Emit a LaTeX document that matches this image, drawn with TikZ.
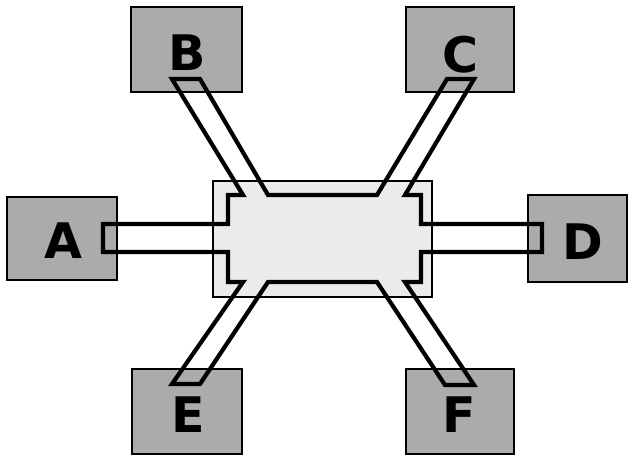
\documentclass[tikz,border=0pt]{standalone}
\usepackage{fontspec}
\newfontfamily\lblfont{DejaVu Sans}
\definecolor{boxgray}{HTML}{ABABAB}
\definecolor{coregray}{HTML}{EBEBEB}
\begin{document}
\begin{tikzpicture}[x=1pt,y=-1pt,
  portbox/.style={draw=black, line width=1.5pt, fill=boxgray, inner sep=0pt},
  corebox/.style={draw=black, line width=1.3pt, fill=coregray, inner sep=0pt},
  letter/.style={font=\lblfont\bfseries\fontsize{49}{49}\selectfont, inner sep=0pt, text depth=0pt},
  channel/.style={draw=black, line width=4.2pt}]
\useasboundingbox (0,0) rectangle (634,457);
% boxes
\path[portbox] (7,197) rectangle (117,280) node[midway] (A) {};
\path[portbox] (131,7) rectangle (242,92) node[midway] (B) {};
\path[portbox] (406,7) rectangle (514,92) node[midway] (C) {};
\path[portbox] (528,195) rectangle (627,282) node[midway] (D) {};
\path[portbox] (132,369) rectangle (242,454) node[midway] (E) {};
\path[portbox] (406,369) rectangle (514,454) node[midway] (F) {};
\path[corebox] (213,181) rectangle (432,297) node[midway] (core) {};
% letters
\node[letter] (lA) at (63,241) {A};
\node[letter] (lB) at (187,53) {B};
\node[letter] (lC) at (460,54) {C};
\node[letter] (lD) at (583,242) {D};
\node[letter] (lE) at (188,415) {E};
\node[letter] (lF) at (459,415) {F};
% channel outline
\draw[channel]
  (103,224) -- (228,224) -- (228,195) -- (243,195) -- (172,79) -- (200,79)
  -- (268,195) -- (377,195) -- (447,79) -- (474,79) -- (405,195) -- (421,195)
  -- (421,224) -- (542,224) -- (542,252) -- (421,252) -- (421,282) -- (405,282)
  -- (474,385) -- (445,385) -- (377,282) -- (268,282) -- (200,384) -- (172,384)
  -- (243,282) -- (228,282) -- (228,252) -- (103,252) -- cycle;
\end{tikzpicture}
\end{document}
